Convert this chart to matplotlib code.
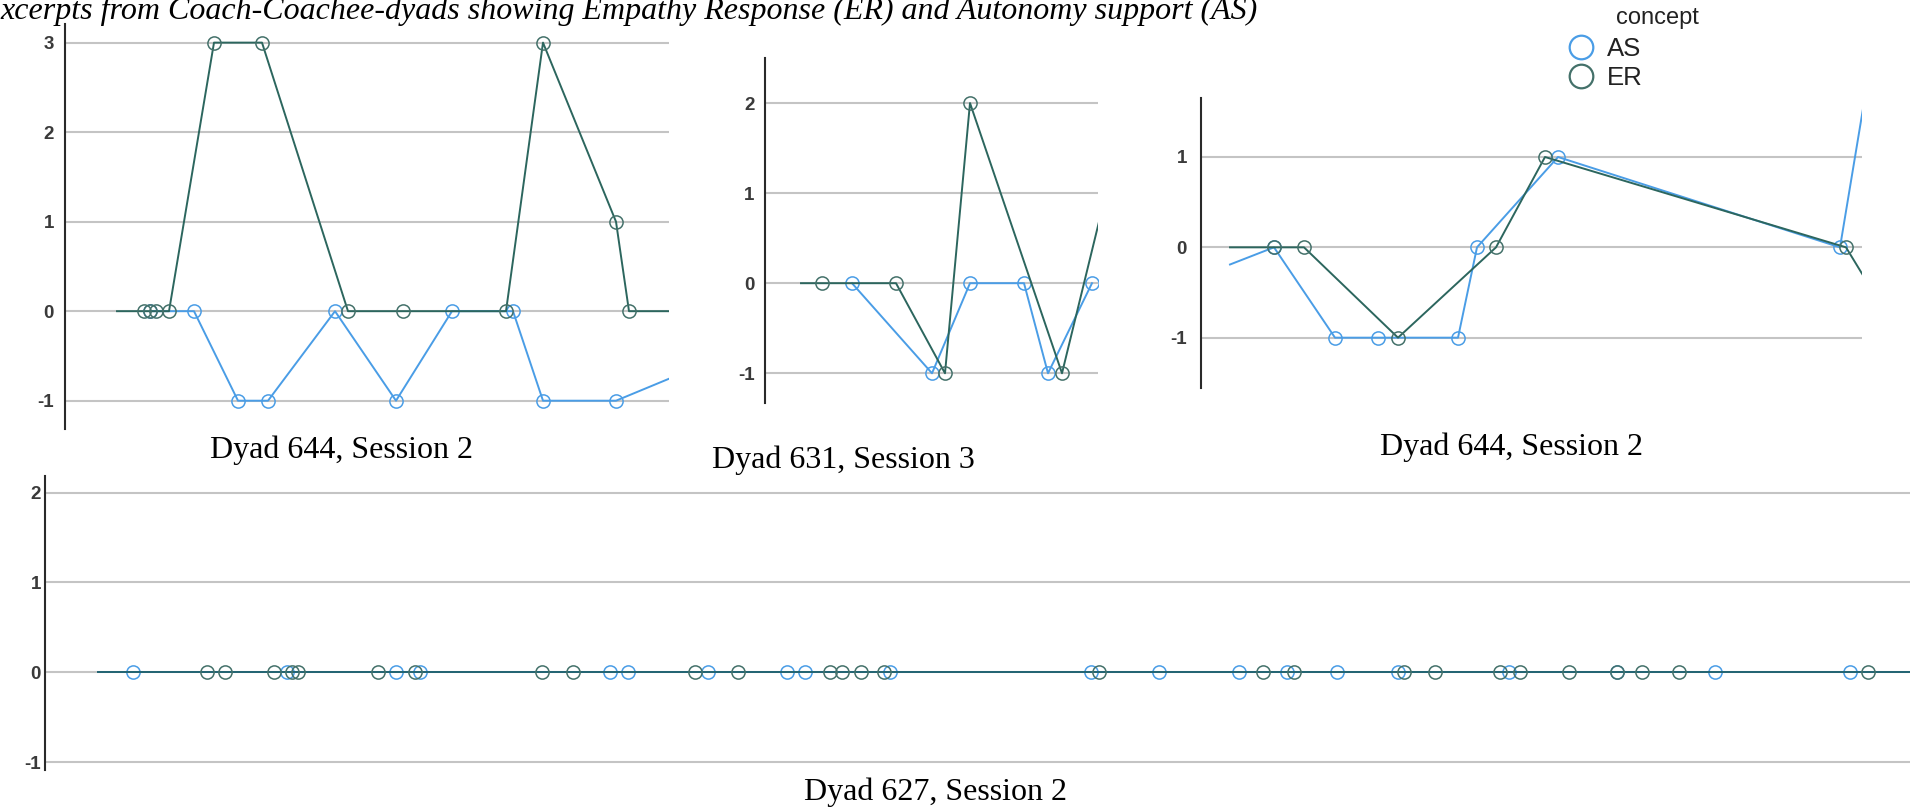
import matplotlib
matplotlib.use('Agg')
import matplotlib.pyplot as plt
from matplotlib.lines import Line2D

plt.rcParams['axes.unicode_minus'] = False

W, H = 1910, 808
fig = plt.figure(figsize=(W / 100, H / 100), dpi=100)

AS_COLOR = '#4a9de6'
ER_COLOR = '#44716a'
ER_LINE = '#2c665e'
GRID = '#c4c4c4'
TICK_COLOR = '#3a3a3a'

title_text = "xcerpts from Coach-Coachee-dyads showing Empathy Response (ER) and Autonomy support (AS)"
legend_title = "concept"
concepts = ["AS", "ER"]

# ---- Panel 1: Dyad 644, Session 2 (time units) ----
p1_label = "Dyad 644, Session 2"
p1_er_t = [5.2, 7.9, 8.5, 9.1, 10.4, 14.9, 19.7, 28.3, 33.8, 44.1, 47.8, 55.1, 56.4, 62.0]
p1_er_v = [0, 0, 0, 0, 0, 3, 3, 0, 0, 0, 3, 1, 0, 0]
p1_as_t = [8.5, 12.9, 17.3, 20.3, 27.0, 33.1, 38.7, 44.8, 47.8, 55.1, 76.7]
p1_as_v = [0, 0, -1, -1, 0, -1, 0, 0, -1, -1, 0]
p1_ticks = [-1, 0, 1, 2, 3]

# ---- Panel 2: Dyad 631, Session 3 ----
p2_label = "Dyad 631, Session 3"
p2_er_t = [3.6, 5.7, 13.1, 18.0, 20.5, 29.7, 34.1]
p2_er_v = [0, 0, 0, -1, 2, -1, 1]
p2_as_t = [8.7, 16.7, 20.5, 25.9, 28.3, 32.7]
p2_as_v = [0, -1, 0, 0, -1, 0]
p2_ticks = [-1, 0, 1, 2]

# ---- Panel 3: Dyad 644, Session 2 ----
p3_label = "Dyad 644, Session 2"
p3_er_t = [2.9, 7.3, 10.3, 19.7, 29.5, 34.4, 64.5, 70.0]
p3_er_v = [0, 0, 0, -1, 0, 1, 0, -1]
p3_as_t = [2.9, 7.3, 13.4, 17.7, 25.7, 27.6, 35.7, 63.9, 66.9]
p3_as_v = [-0.19, 0, -1, -1, -1, 0, 1, 0, 2]
p3_ticks = [-1, 0, 1]

# ---- Panel 4: Dyad 627, Session 2 ----
p4_label = "Dyad 627, Session 2"
p4_as_t = [5.3, 8.8, 24.2, 35.1, 37.5, 56.5, 58.3, 66.3, 74.2, 76.0, 84.5, 104.6, 111.4,
           119.4, 124.2, 129.2, 135.3, 146.4, 157.2, 167.0, 180.5, 190.0]
p4_as_v = [0] * len(p4_as_t)
p4_er_t = [5.3, 16.2, 18.0, 22.9, 24.7, 25.3, 33.3, 37.0, 49.7, 52.8, 65.0, 69.3, 78.5,
           79.7, 81.6, 83.9, 105.4, 121.8, 124.9, 135.9, 139.0, 145.5, 147.5, 152.4,
           157.2, 159.7, 163.4, 182.3, 190.0]
p4_er_v = [0] * len(p4_er_t)
p4_ticks = [-1, 0, 1, 2]

MS = 9.5
MEW = 1.1
LW = 1.4


def make_ax(left, top, right, bottom, xlim, ylim, ticks, pad):
    ax = fig.add_axes([left / W, 1 - bottom / H, (right - left) / W, (bottom - top) / H])
    ax.set_xlim(*xlim)
    ax.set_ylim(*ylim)
    ax.set_yticks(ticks)
    ax.set_yticklabels([str(t) for t in ticks])
    ax.set_xticks([])
    for s in ['top', 'right', 'bottom']:
        ax.spines[s].set_visible(False)
    ax.spines['left'].set_color('#2a2a2a')
    ax.spines['left'].set_linewidth(1.5)
    ax.tick_params(axis='y', length=0, pad=pad, labelsize=13.5, labelcolor=TICK_COLOR)
    for lab in ax.get_yticklabels():
        lab.set_fontfamily('Liberation Sans')
        lab.set_fontweight('bold')
    ax.grid(axis='y', color=GRID, linewidth=1.5)
    ax.set_axisbelow(True)
    ax.patch.set_alpha(0)
    return ax


def series(ax, t, v, color, lcolor, lead=True):
    mk = slice(1, None) if lead else None
    ax.plot(t, v, color=lcolor, lw=LW, marker='o', ms=MS, mfc='none', mec=color,
            mew=MEW, markevery=mk, clip_on=True)


# Panel 1
ax1 = make_ax(65, 24, 669, 429, (0, 60.4), (-1.316, 3.208), p1_ticks, 8)
series(ax1, p1_as_t, p1_as_v, AS_COLOR, AS_COLOR, lead=False)
series(ax1, p1_er_t, p1_er_v, ER_COLOR, ER_LINE, lead=True)

# Panel 2
ax2 = make_ax(765, 58, 1098, 403, (0, 33.3), (-1.33, 2.50), p2_ticks, 7.5)
series(ax2, p2_as_t, p2_as_v, AS_COLOR, AS_COLOR, lead=False)
series(ax2, p2_er_t, p2_er_v, ER_COLOR, ER_LINE, lead=True)

# Panel 3
ax3 = make_ax(1201, 98, 1862, 388, (0, 66.1), (-1.557, 1.653), p3_ticks, 10)
series(ax3, p3_as_t, p3_as_v, AS_COLOR, AS_COLOR, lead=True)
series(ax3, p3_er_t, p3_er_v, ER_COLOR, ER_LINE, lead=True)

# Panel 4
ax4 = make_ax(45, 476, 1910, 770, (0, 186.5), (-1.089, 2.186), p4_ticks, 3)
series(ax4, p4_as_t, p4_as_v, AS_COLOR, AS_COLOR, lead=True)
series(ax4, p4_er_t, p4_er_v, ER_COLOR, '#236470', lead=True)

# Captions
cap_kw = dict(ha='center', va='baseline', fontsize=23, family='Liberation Serif', color='black')
fig.text(341 / W, 1 - 458 / H, p1_label, **cap_kw)
fig.text(843 / W, 1 - 468 / H, p2_label, **cap_kw)
fig.text(1511 / W, 1 - 455 / H, p3_label, **cap_kw)
fig.text(935 / W, 1 - 800 / H, p4_label, **cap_kw)

# Title (cropped excerpt)
fig.text(0.0, 1 - 19.5 / H, title_text, ha='left', va='baseline', fontsize=23,
         family='Liberation Serif', style='italic', color='black')

# Legend
fig.text(1657 / W, 1 - 18 / H, legend_title, ha='center', va='center', fontsize=17,
         family='Liberation Sans', color='#222222')
handles = [Line2D([], [], marker='o', ls='none', mfc='none', mec=c, ms=17, mew=1.6)
           for c in (AS_COLOR, ER_COLOR)]
leg = fig.legend(handles, concepts, loc='upper left', bbox_to_anchor=(1568 / W, 1 - 37 / H),
                 frameon=False, prop={'family': 'Liberation Sans', 'size': 18.5},
                 handletextpad=0.5, labelspacing=0.2, borderaxespad=0, borderpad=0,
                 handlelength=1.0)
for txt in leg.get_texts():
    txt.set_color('#222222')

fig.savefig('out.png', dpi=100)
